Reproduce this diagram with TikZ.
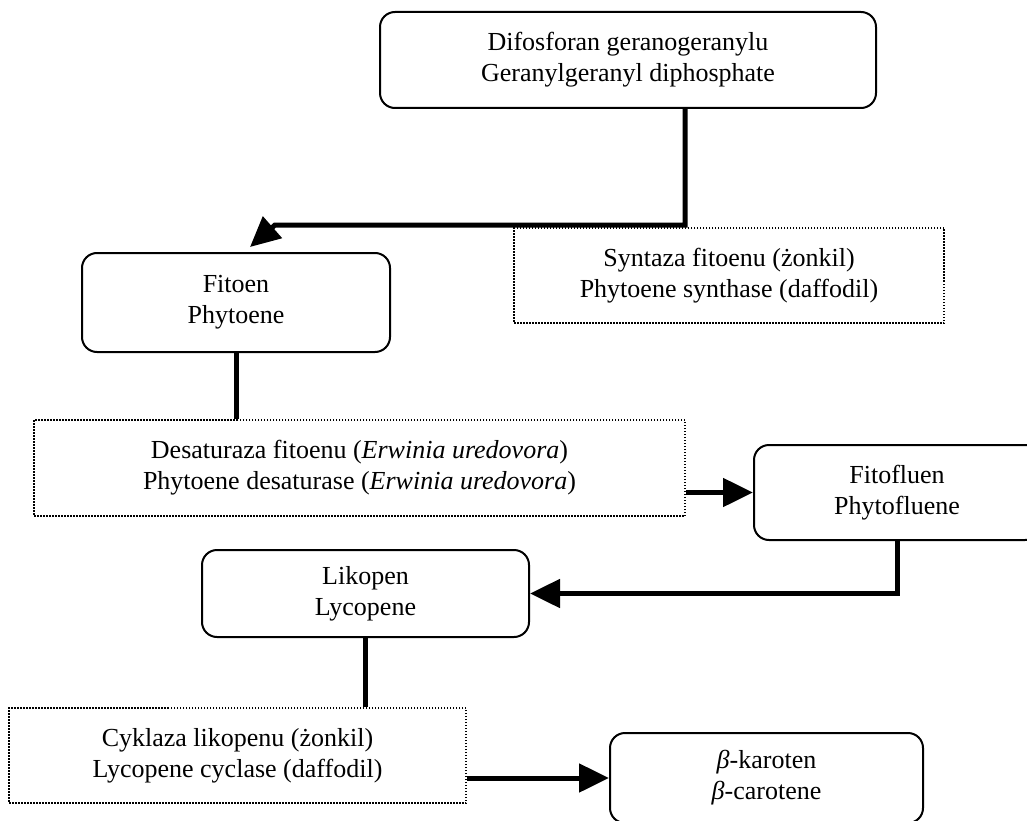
\documentclass[tikz,border=0pt]{standalone}
\usepackage{fontspec}
\setmainfont{Liberation Serif}
\usetikzlibrary{arrows.meta}

\begin{document}
\begin{tikzpicture}[x=1pt, y=-1pt] %Szlak syntezy beta-karotenu
	\tikzstyle{product} = [rectangle, draw, line width=2pt, rounded corners=15pt, inner sep=0pt, text centered, align=center, font=\fontsize{26}{31}\selectfont]
	\tikzstyle{enzyme} = [rectangle, draw, line width=1.5pt, dash pattern=on 1.5pt off 1.5pt, inner sep=0pt, text centered, align=center, font=\fontsize{26}{31}\selectfont]
	\tikzstyle{link} = [line width=5pt]
	\tikzstyle{arrow} = [link, -{Triangle[length=30pt, width=28pt]}]
	\useasboundingbox (0,0) rectangle (1027,821);
	\node[product, minimum width=496pt, minimum height=96pt] (P1) at (628,60) {Difosforan geranogeranylu\\Geranylgeranyl diphosphate};
	\node[enzyme, minimum width=430pt, minimum height=95pt] (E1) at (729,275.5) {Syntaza fitoenu (żonkil)\\Phytoene synthase (daffodil)};
	\node[product, minimum width=308pt, minimum height=99pt] (P2) at (236,302.5) {Fitoen\\Phytoene};
	\node[enzyme, minimum width=651pt, minimum height=96pt] (E2) at (359.5,468) {Desaturaza fitoenu (\textit{Erwinia uredovora})\\Phytoene desaturase (\textit{Erwinia uredovora})};
	\node[product, minimum width=286pt, minimum height=95pt] (P3) at (897,492.5) {Fitofluen\\Phytofluene};
	\node[product, minimum width=327pt, minimum height=87pt] (P4) at (365.5,593.5) {Likopen\\Lycopene};
	\node[enzyme, minimum width=457pt, minimum height=95pt] (E3) at (237.5,755.5) {Cyklaza likopenu (żonkil)\\Lycopene cyclase (daffodil)};
	\node[product, minimum width=313pt, minimum height=90pt] (P5) at (766.5,778) {{\itshape β}-karoten\\{\itshape β}-carotene};
	\coordinate (B1) at (275,225);
	\coordinate (T1) at (250,247);
	\draw[arrow] ([xshift=57pt]P1.south) |- (B1) -- (T1);
	\draw[link] (P2.south) -- (P2.south |- E2.north);
	\draw[link] (P4.south) -- (P4.south |- E3.north);
	\draw[arrow] (P3.south) |- (P4.east);
	\foreach \a/\b in {E2/P3, E3/P5}
	{
		\draw[arrow] (\a.east |- \b.west) -- (\b.west);
	}
\end{tikzpicture}
\end{document}
